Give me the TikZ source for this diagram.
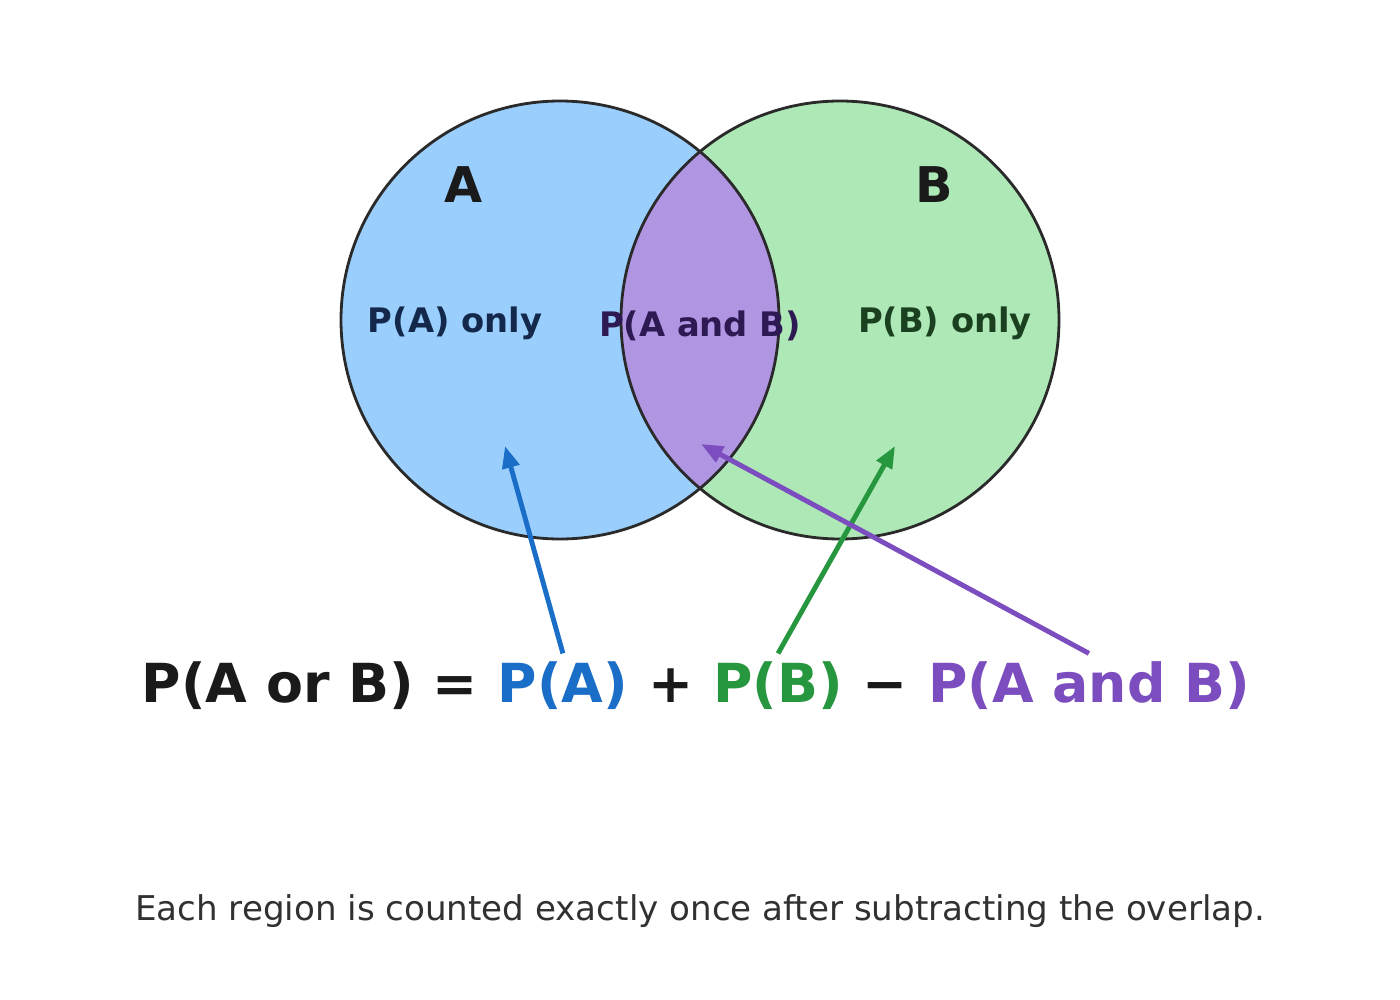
\documentclass[tikz,border=0pt]{standalone}
\usepackage{fontspec}
\setmainfont{DejaVu Sans}
\usetikzlibrary{positioning,arrows.meta}

\definecolor{fillA}{HTML}{9ACEFD}
\definecolor{fillB}{HTML}{AEE8B7}
\definecolor{fillAB}{HTML}{B095E3}
\definecolor{rimc}{HTML}{2A2A2A}
\definecolor{txtc}{HTML}{1A1A1A}
\definecolor{blueA}{HTML}{1B6EC8}
\definecolor{greenB}{HTML}{26963F}
\definecolor{purpAB}{HTML}{7B4DBE}
\definecolor{deepA}{HTML}{14284B}
\definecolor{deepB}{HTML}{1A4020}
\definecolor{deepAB}{HTML}{2D1A52}

\tikzset{
  setname/.style={font=\bfseries\fontsize{14}{16}\selectfont,text=txtc},
  region/.style={font=\bfseries\fontsize{9.6}{11}\selectfont},
  eqterm/.style={font=\bfseries\fontsize{15.3}{18}\selectfont,inner xsep=0pt,inner ysep=2pt,anchor=base west},
  pointer/.style={line width=1.4pt,-{Triangle[length=0.22cm,width=0.17cm]}}
}

\begin{document}
\begin{tikzpicture}[x=0.01cm,y=-0.01cm,node distance=5.3pt]
\useasboundingbox (0,0) rectangle (1400,1000);
% the two sets
\fill[fillA] (560,320) circle (219);
\fill[fillB] (840,320) circle (219);
\begin{scope}
\clip (560,320) circle (219);
\fill[fillAB] (840,320) circle (219);
\end{scope}
\draw[rimc,line width=0.8pt] (560,320) circle (219) (840,320) circle (219);

\node[setname] (nameA) at (464,185) {A};
\node[setname] (nameB) at (934,185) {B};
\node[region,text=deepA] (onlyA) at (455,323) {P(A) only};
\node[region,text=deepAB] (bothAB) at (700,326) {P(A and B)};
\node[region,text=deepB] (onlyB) at (945,323) {P(B) only};

% the formula
\node[eqterm,text=txtc] (lhs) at (141,702) {P(A or B) =};
\node[eqterm,text=blueA,base right=of lhs] (termA) {P(A)};
\node[eqterm,text=txtc,base right=of termA] (plus) {+};
\node[eqterm,text=greenB,base right=of plus] (termB) {P(B)};
\node[eqterm,text=txtc,base right=of termB] (minus) {−};
\node[eqterm,text=purpAB,base right=of minus] (termAB) {P(A and B)};

\coordinate (tipA) at (505,446);
\coordinate (tipB) at (895,446);
\coordinate (tipAB) at (701,444);
\draw[pointer,blueA] (termA.north) -- (tipA);
\draw[pointer,greenB] (termB.north) -- (tipB);
\draw[pointer,purpAB] (termAB.north) -- (tipAB);

\node[font=\fontsize{9.7}{12}\selectfont,text=txtc!90,anchor=base] (note) at (700,920) {Each region is counted exactly once after subtracting the overlap.};
\end{tikzpicture}
\end{document}
